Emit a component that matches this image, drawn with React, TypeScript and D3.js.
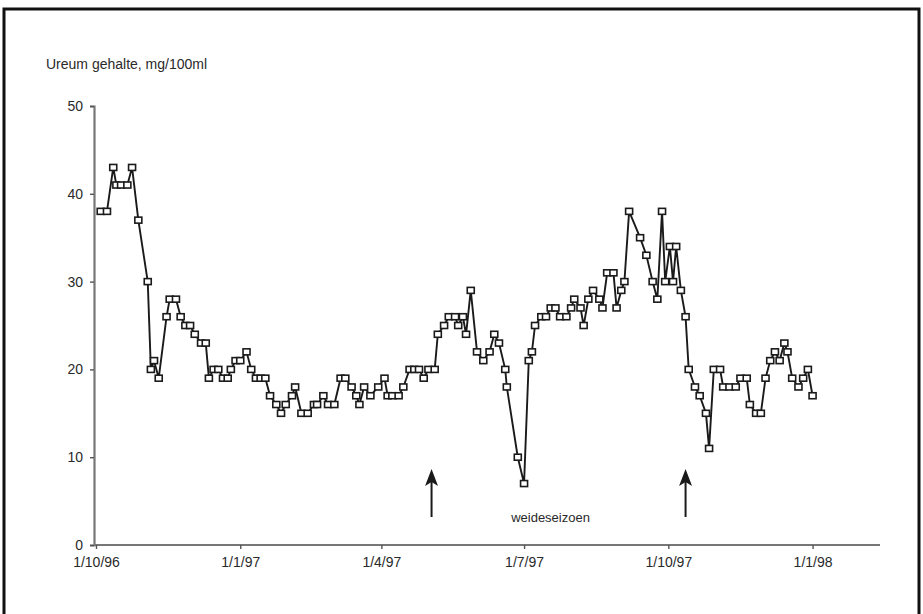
import React, { useRef, useEffect } from "react";
import * as d3 from "d3";

// days after 1 Oct 1996
const dayOffsets = [
  3, 7, 11, 13, 16, 20, 23, 27, 33, 35, 37, 40, 45, 47, 51, 54, 57, 60, 63, 67,
  70, 72, 75, 78, 81, 84, 86, 89, 92, 96, 99, 102, 105, 108, 111, 115, 118, 121,
  125, 127, 131, 135, 139, 141, 145, 148, 152, 156, 159, 163, 166, 168, 171, 175,
  180, 184, 186, 189, 193, 196, 200, 203, 206, 209, 212, 216, 218, 222, 225, 229,
  231, 234, 236, 239, 243, 247, 251, 254, 257, 261, 262, 269, 273, 276, 278, 280,
  284, 287, 290, 293, 296, 300, 303, 305, 309, 311, 314, 317, 321, 323, 326, 330,
  332, 335, 337, 340, 347, 351, 355, 358, 361, 363, 366, 368, 370, 373, 376, 378,
  382, 385, 389, 391, 394, 398, 400, 404, 408, 411, 415, 417, 421, 424, 427, 430,
  433, 436, 439, 441, 444, 448, 451, 454, 457,
];

// ureum gehalte, mg/100ml
const ureum = [
  38, 38, 43, 41, 41, 41, 43, 37, 30, 20, 21, 19, 26, 28, 28, 26, 25, 25, 24, 23,
  23, 19, 20, 20, 19, 19, 20, 21, 21, 22, 20, 19, 19, 19, 17, 16, 15, 16,
  17, 18, 15, 15, 16, 16, 17, 16, 16, 19, 19, 18, 17, 16, 18, 17,
  18, 19, 17, 17, 17, 18, 20, 20, 20, 19, 20, 20, 24, 25, 26, 26,
  25, 26, 24, 29, 22, 21, 22, 24, 23, 20, 18, 10, 7, 21, 22, 25,
  26, 26, 27, 27, 26, 26, 27, 28, 27, 25, 28, 29, 28, 27, 31, 31,
  27, 29, 30, 38, 35, 33, 30, 28, 38, 30, 34, 30, 34, 29, 26, 20,
  18, 17, 15, 11, 20, 20, 18, 18, 18, 19, 19, 16, 15, 15, 19, 21,
  22, 21, 23, 22, 19, 18, 19, 20, 17,
];

const tickDates = ["1996-10-01", "1997-01-01", "1997-04-01", "1997-07-01", "1997-10-01", "1998-01-01"];
const tickLabels = ["1/10/96", "1/1/97", "1/4/97", "1/7/97", "1/10/97", "1/1/98"];
const yTicks = [0, 10, 20, 30, 40, 50];
const arrowOffsets = [214, 376]; // start / end of grazing season
const seasonLabel = "weideseizoen";
const yTitle = "Ureum gehalte, mg/100ml";

const W = 923, H = 614;
const font = "'Liberation Sans', Arial, sans-serif";
const ink = "#1a1a1a";

export default function App() {
  const ref = useRef<SVGSVGElement>(null);

  useEffect(() => {
    const svg = d3.select(ref.current);
    svg.selectAll("*").remove();

    const start = new Date(1996, 9, 1);
    const day = (n: number) => d3.timeDay.offset(start, n);

    const x = d3.scaleTime()
      .domain([start, new Date(1998, 1, 13)])
      .range([96, 880]);
    const y = d3.scaleLinear().domain([0, 50]).range([545, 106]);

    // frame
    svg.append("rect")
      .attr("x", 4).attr("y", 9)
      .attr("width", 915).attr("height", 640)
      .attr("fill", "white")
      .attr("stroke", "#111").attr("stroke-width", 3);

    // title
    svg.append("text")
      .attr("x", 46).attr("y", 69)
      .attr("font-family", font).attr("font-size", 14)
      .attr("fill", "#2a2a2a")
      .text(yTitle);

    // y axis
    const yAxis = svg.append("g")
      .attr("transform", "translate(94,0)")
      .call(d3.axisLeft(y).tickValues(yTicks).tickSize(4).tickPadding(7));
    yAxis.select(".domain").attr("stroke", "#777").attr("stroke-width", 2.2);
    yAxis.selectAll(".tick line").attr("stroke", "#555").attr("stroke-width", 1.4);
    yAxis.selectAll("text")
      .attr("font-family", font).attr("font-size", 14).attr("fill", "#2a2a2a");

    // x axis
    const xAxis = svg.append("g")
      .attr("transform", "translate(0,545)")
      .call(
        d3.axisBottom(x)
          .tickValues(tickDates.map(d => d3.timeParse("%Y-%m-%d")(d) as Date))
          .tickFormat((_, i) => tickLabels[i])
          .tickSize(4)
          .tickPadding(8)
      );
    xAxis.select(".domain")
      .attr("d", `M${x.range()[0] - 2},0H${x.range()[1]}`)
      .attr("stroke", "#777").attr("stroke-width", 2.2);
    xAxis.selectAll(".tick line").attr("stroke", "#555").attr("stroke-width", 1.4);
    xAxis.selectAll("text")
      .attr("font-family", font).attr("font-size", 14).attr("fill", "#2a2a2a");

    const data = dayOffsets.map((d, i) => ({ date: day(d), v: ureum[i] }));

    const line = d3.line<{ date: Date; v: number }>()
      .x(d => x(d.date))
      .y(d => y(d.v));

    svg.append("path")
      .datum(data)
      .attr("d", line)
      .attr("fill", "none")
      .attr("stroke", ink)
      .attr("stroke-width", 1.9);

    svg.append("g")
      .selectAll("rect")
      .data(data)
      .enter()
      .append("rect")
      .attr("x", d => x(d.date) - 3.5)
      .attr("y", d => y(d.v) - 3)
      .attr("width", 7)
      .attr("height", 6)
      .attr("fill", "white")
      .attr("stroke", ink)
      .attr("stroke-width", 1.6);

    // arrows marking the grazing season
    const arrows = svg.append("g");
    arrowOffsets.forEach(o => {
      const ax = x(day(o));
      arrows.append("line")
        .attr("x1", ax).attr("x2", ax)
        .attr("y1", 517).attr("y2", 478)
        .attr("stroke", ink).attr("stroke-width", 2);
      arrows.append("path")
        .attr("d", `M${ax},469L${ax - 6.5},486L${ax},482L${ax + 6.5},486Z`)
        .attr("fill", ink);
    });

    svg.append("text")
      .attr("x", x(day((arrowOffsets[0] + arrowOffsets[1]) / 2)) - 8)
      .attr("y", 522)
      .attr("text-anchor", "middle")
      .attr("font-family", font).attr("font-size", 13)
      .attr("fill", "#2a2a2a")
      .text(seasonLabel);
  }, []);

  return (
    <svg
      ref={ref}
      width={W}
      height={H}
      style={{ position: "absolute", left: 0, top: 0, background: "white" }}
    />
  );
}
